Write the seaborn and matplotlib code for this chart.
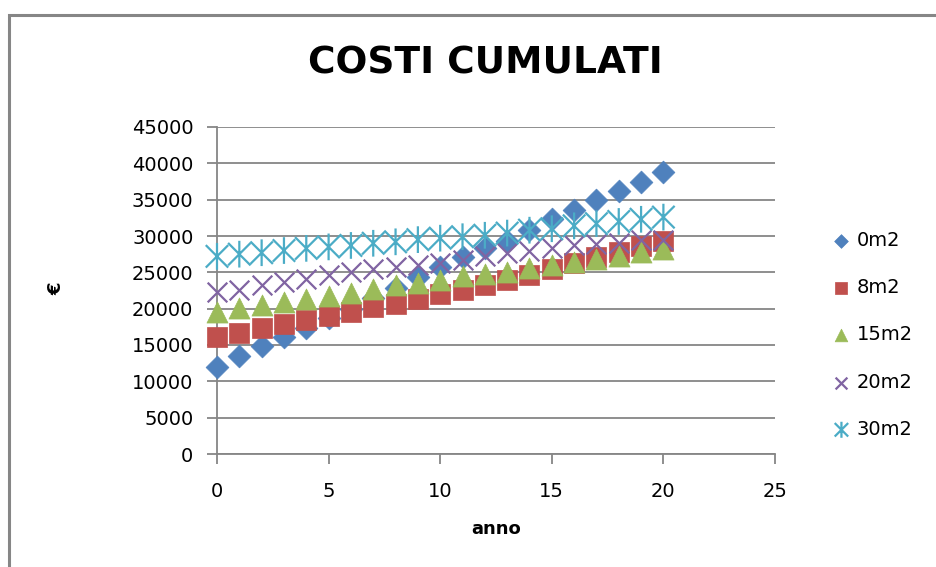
import matplotlib
matplotlib.use("Agg")
import matplotlib.pyplot as plt
import seaborn as sns
import pandas as pd
from matplotlib.path import Path
from matplotlib.patches import Rectangle

# ---- data ----
anni = list(range(21))
costi_0m2 = [12000, 13500, 14800, 16100, 17300, 18700, 20000, 21400, 22900, 24400, 25800,
             27100, 28300, 29300, 30800, 32300, 33600, 34900, 36200, 37500, 38800]
costi_8m2 = [16100, 16700, 17300, 17900, 18500, 19000, 19600, 20200, 20700, 21300, 22000,
             22600, 23200, 23900, 24700, 25500, 26300, 27100, 27800, 28600, 29300]
costi_15m2 = [19600, 20050, 20500, 20900, 21350, 21750, 22150, 22650, 23200, 23600, 24000,
              24450, 24800, 25100, 25550, 25950, 26400, 26850, 27300, 27750, 28200]
costi_20m2 = [22300, 22600, 23200, 23700, 24100, 24600, 25000, 25400, 25700, 26000, 26300,
              26700, 27200, 27600, 28000, 28400, 28700, 28900, 29100, 29400, 29500]
costi_30m2 = [27200, 27500, 27700, 28000, 28300, 28500, 28700, 29000, 29200, 29500, 29700,
              29900, 30100, 30400, 30800, 31000, 31400, 31700, 32000, 32300, 32600]
serie = ["0m2", "8m2", "15m2", "20m2", "30m2"]
valori = [costi_0m2, costi_8m2, costi_15m2, costi_20m2, costi_30m2]
x_ticks = [0, 5, 10, 15, 20, 25]
y_ticks = [0, 5000, 10000, 15000, 20000, 25000, 30000, 35000, 40000, 45000]

sns.set_style("white")
plt.rcParams["font.family"] = ["DejaVu Sans"]
plt.rcParams["text.color"] = "black"

fig = plt.figure(figsize=(9.37, 5.67), dpi=100)
ax = fig.add_axes([217/937, 1-454/567, (775-217)/937, (454-127)/567])

asterisk = Path([(0, -0.5), (0, 0.5), (-0.42, -0.42), (0.42, 0.42), (-0.42, 0.42), (0.42, -0.42)],
                [Path.MOVETO, Path.LINETO, Path.MOVETO, Path.LINETO, Path.MOVETO, Path.LINETO])

styles = [
    dict(marker="D", s=135, color="#4F81BD", edgecolor="#4F81BD", linewidth=0.5),
    dict(marker="s", s=220, color="#C0504D", edgecolor="#C0504D", linewidth=0.5),
    dict(marker="^", s=230, color="#9BBB59", edgecolor="#9BBB59", linewidth=0.5),
    dict(marker="x", s=200, color="#8064A2", linewidth=1.6),
    dict(marker=asterisk, s=370, facecolor="none", edgecolor="#4BACC6", color="#4BACC6",
         linewidth=1.6),
]

for nome, vals, st in zip(serie, valori, styles):
    df = pd.DataFrame({"anno": anni, "costo": vals})
    sns.scatterplot(data=df, x="anno", y="costo", ax=ax, label=nome, zorder=3,
                    clip_on=False, **st)

grid_c = "#868686"
ax.set_xlim(0, 25)
ax.set_ylim(0, 45000)
ax.set_xticks(x_ticks)
ax.set_yticks(y_ticks)
ax.yaxis.grid(True, color=grid_c, linewidth=1.3)
ax.xaxis.grid(False)
ax.set_axisbelow(True)
for side in ["top", "right"]:
    ax.spines[side].set_visible(False)
for side in ["left", "bottom"]:
    ax.spines[side].set_color(grid_c)
    ax.spines[side].set_linewidth(1.3)
ax.tick_params(axis="both", direction="out", length=7, width=1.3, color=grid_c,
               labelsize=14, labelcolor="black")
ax.tick_params(axis="y", pad=10, left=True)
ax.tick_params(axis="x", pad=13, bottom=True)

ax.set_xlabel("anno", fontsize=13, fontweight="bold", labelpad=14, color="black")
ax.set_ylabel("")
fig.text(56/937, 1-289/567, "€", rotation=90, fontsize=13, fontweight="bold",
         ha="center", va="center", color="black")
fig.text(485/937, 1-64/567, "COSTI CUMULATI", fontsize=27, fontweight="bold",
         ha="center", va="center", color="black")

leg = ax.legend(loc="center left", bbox_to_anchor=(822/937, 1-335/567),
                bbox_transform=fig.transFigure, frameon=False, fontsize=14,
                markerscale=0.6, labelspacing=1.45, handletextpad=0.3,
                handlelength=1.0, borderpad=0)
for t in leg.get_texts():
    t.set_color("black")

fig.patches.append(Rectangle((9.5/937, -0.2), 1.2, 0.2 + 1 - 14.5/567,
                             transform=fig.transFigure, fill=False,
                             edgecolor=grid_c, linewidth=2.2, clip_on=False))

fig.savefig("out.png", dpi=100, facecolor="white")
